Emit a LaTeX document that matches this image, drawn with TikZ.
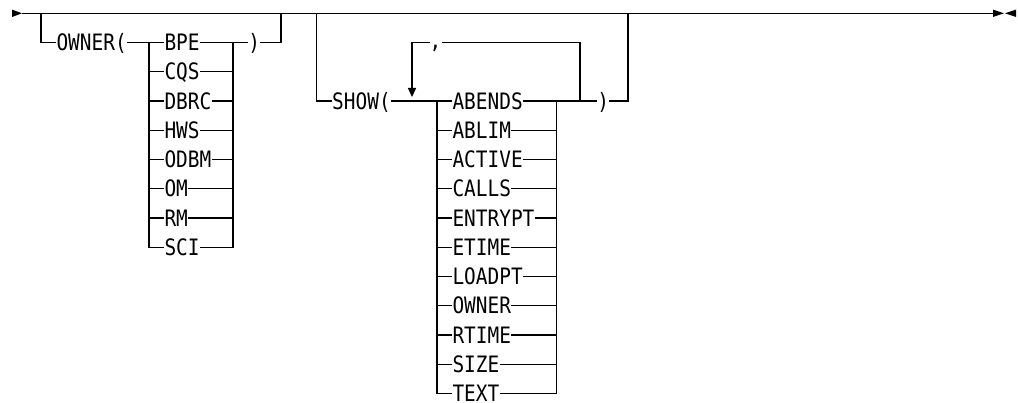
\documentclass[tikz,border=0pt]{standalone}
\usepackage{fontspec}
\newfontfamily\synfont[FakeStretch=0.86]{DejaVu Sans Mono}
\begin{document}
\begin{tikzpicture}[x=1pt,y=-1pt,
  rail/.style={draw=black, line width=1.2pt},
  lbl/.style={font=\synfont\fontsize{22.6}{22.6}\selectfont, inner sep=0pt,
    text height=16.4pt, text depth=0pt, anchor=west},
  commalbl/.style={lbl, text height=12.4pt},
  tri/.style={fill=black, draw=none}]
\useasboundingbox (0,0) rectangle (1018,403);
\def\ya{42.55}
\def\yc{101.05}
% main line
\coordinate (start) at (22,13.3);
\coordinate (end) at (993,13.3);
\fill[tri] (12,9.6) -- (start) -- (12,17) -- cycle;
\draw[rail] (start) -- (end);
\fill[tri] (993,9.6) -- (1004,13.3) -- (993,17) -- cycle;
\fill[tri] (1016,9.6) -- (1005,13.3) -- (1016,17) -- cycle;
% OWNER group
\coordinate (oL) at (41,13.3);
\coordinate (oR) at (281,13.3);
\coordinate (oa) at (149,\ya);
\coordinate (ob) at (233,\ya);
\node[lbl] (owner) at (56.3,\ya) {OWNER(};
\draw[rail] (oL) |- (owner.west);
\draw[rail] (owner.east) -- (oa);
\foreach \t [count=\k] in {BPE,CQS,DBRC,HWS,ODBM,OM,RM,SCI} {
  \pgfmathsetmacro\yy{13.3+29.25*\k}
  \node[lbl] (own\k) at (164.3,\yy) {\t};
  \draw[rail] (oa) |- (own\k.west);
  \draw[rail] (own\k.east) -| (ob);
}
\node[lbl] (oclose) at (248.2,\ya) {)};
\draw[rail] (ob) -- (oclose.west);
\draw[rail] (oclose.east) -| (oR);
% SHOW group
\coordinate (sL) at (316.7,13.3);
\coordinate (sR) at (628,13.3);
\coordinate (sa) at (437,\yc);
\coordinate (sb) at (556.7,\yc);
\coordinate (sc) at (580,\yc);
\coordinate (arr) at (412,88);
\node[lbl] (show) at (332,\yc) {SHOW(};
\draw[rail] (sL) |- (show.west);
\draw[rail] (show.east) -- (sa);
\node[commalbl] (comma) at (429.5,\ya) {,};
\draw[rail] (comma.west) -| (arr);
\fill[tri] (407.8,88) -- (416.2,88) -- (412,97) -- cycle;
\draw[rail] (comma.east) -| (sc);
\foreach \t [count=\k from 3] in {ABENDS,ABLIM,ACTIVE,CALLS,ENTRYPT,ETIME,LOADPT,OWNER,RTIME,SIZE,TEXT} {
  \pgfmathsetmacro\yy{13.3+29.25*\k}
  \node[lbl] (s\k) at (452.3,\yy) {\t};
  \draw[rail] (sa) |- (s\k.west);
  \draw[rail] (s\k.east) -| (sb);
}
\draw[rail] (sb) -- (sc);
\node[lbl] (sclose) at (597.2,\yc) {)};
\draw[rail] (sc) -- (sclose.west);
\draw[rail] (sclose.east) -| (sR);
\end{tikzpicture}
\end{document}
